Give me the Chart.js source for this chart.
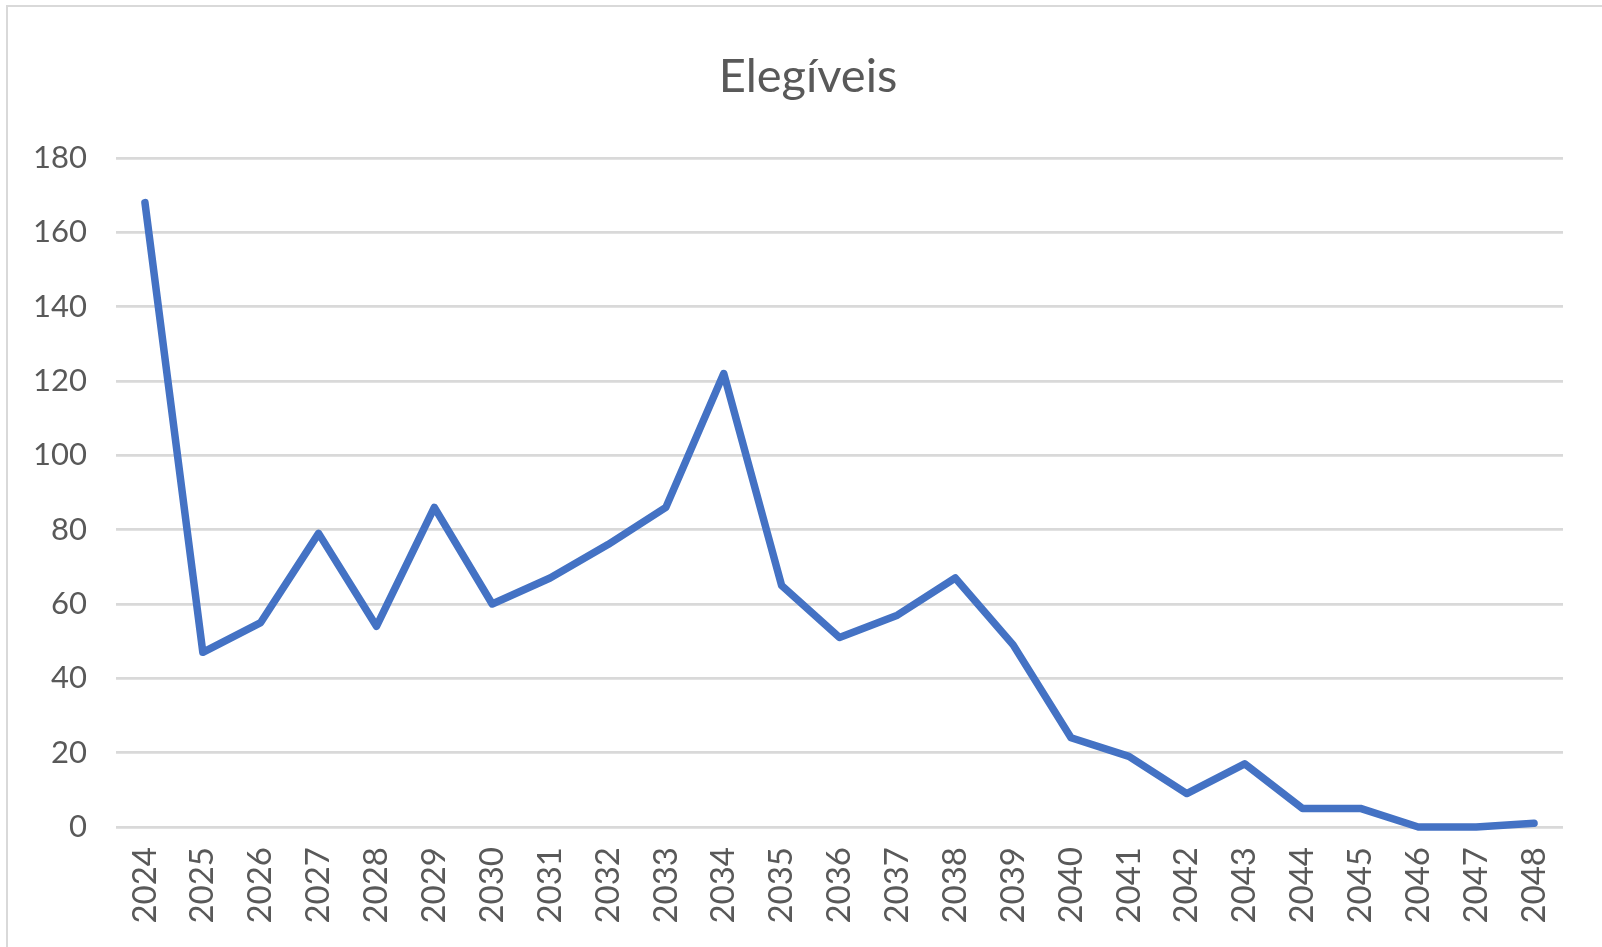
<!DOCTYPE html>
<html>
<head>
<meta charset="utf-8">
<script src="https://cdn.jsdelivr.net/npm/chart.js@4/dist/chart.umd.min.js"></script>
<style>
  html, body { margin: 0; padding: 0; background: #ffffff; }
  #wrap { position: relative; width: 1602px; height: 947px; overflow: hidden; background: #fff; }
  #frame { position: absolute; left: 6px; top: 5px; right: -10px; bottom: -10px;
           border-left: 2px solid #d9d9d9; border-top: 2px solid #d9d9d9; }
  canvas { position: absolute; left: 0; top: 0; }
</style>
</head>
<body>
<div id="wrap">
  <div id="frame"></div>
  <canvas id="c" width="1602" height="947"></canvas>
</div>
<script>
const chartTitle = "Elegíveis";
const years = ["2024","2025","2026","2027","2028","2029","2030","2031","2032","2033",
               "2034","2035","2036","2037","2038","2039","2040","2041","2042","2043",
               "2044","2045","2046","2047","2048"];
const elegiveis = [168, 47, 55, 79, 54, 86, 60, 67, 76, 86,
                   122, 65, 51, 57, 67, 49, 24, 19, 9, 17,
                   5, 5, 0, 0, 1];
const yTicks = { min: 0, max: 180, step: 20 };

const textColor = "#595959";
const fontFamily = "Lato, 'Open Sans', sans-serif";

const titlePlugin = {
  id: "excelTitle",
  afterDraw(chart) {
    const ctx = chart.ctx;
    ctx.save();
    ctx.font = "47px " + fontFamily;
    ctx.fillStyle = textColor;
    ctx.textAlign = "center";
    ctx.textBaseline = "alphabetic";
    ctx.fillText(chartTitle, 808, 92);
    ctx.restore();
  }
};

new Chart(document.getElementById("c"), {
  type: "line",
  data: {
    labels: years,
    datasets: [{
      label: chartTitle,
      data: elegiveis,
      borderColor: "#4472C4",
      backgroundColor: "#4472C4",
      borderWidth: 7.5,
      pointRadius: 0,
      pointHoverRadius: 0,
      tension: 0,
      borderCapStyle: "round",
      borderJoinStyle: "round",
      clip: false
    }]
  },
  options: {
    responsive: false,
    animation: false,
    devicePixelRatio: 1,
    layout: { padding: { top: 158, left: 0, right: 39, bottom: 0 } },
    plugins: {
      legend: { display: false },
      title: { display: false },
      tooltip: { enabled: false }
    },
    scales: {
      x: {
        offset: true,
        grid: { display: false, drawTicks: false },
        border: { display: false },
        ticks: {
          color: textColor,
          font: { family: fontFamily, size: 33 },
          minRotation: 90,
          maxRotation: 90,
          padding: 20,
          autoSkip: false
        },
        afterFit(s) { s.height = 120; }
      },
      y: {
        min: yTicks.min,
        max: yTicks.max,
        grid: { color: "#d9d9d9", lineWidth: 2.75, drawTicks: false },
        border: { display: false },
        ticks: {
          stepSize: yTicks.step,
          color: textColor,
          font: { family: fontFamily, size: 31 },
          padding: 29
        },
        afterFit(s) { s.width = 116; }
      }
    }
  },
  plugins: [titlePlugin]
});
</script>
</body>
</html>
